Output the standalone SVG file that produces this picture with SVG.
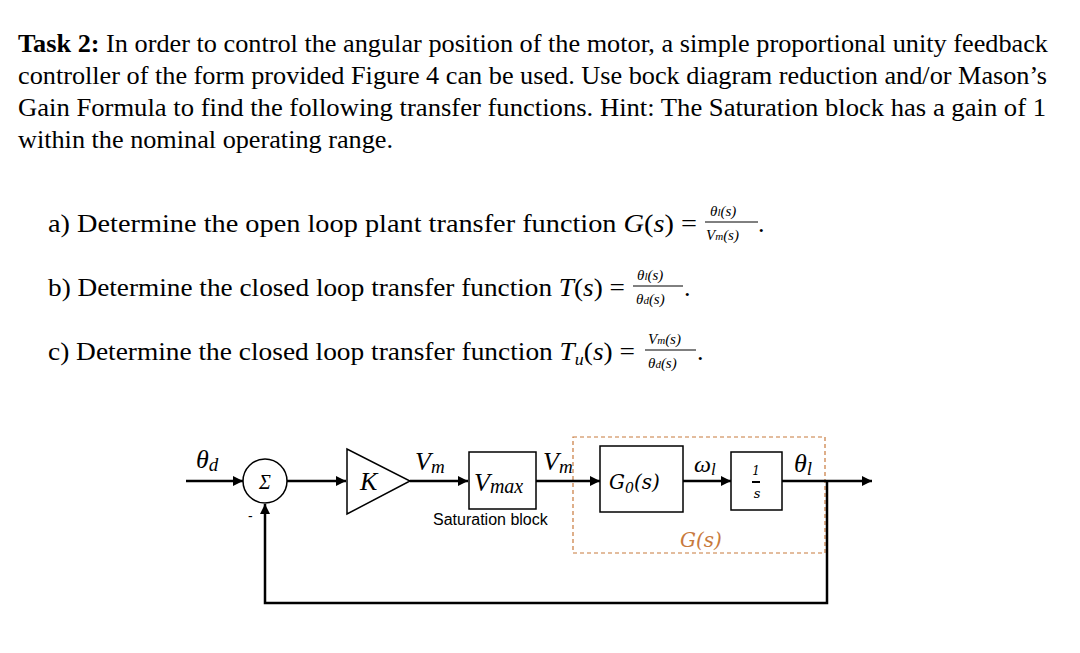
<svg xmlns="http://www.w3.org/2000/svg" width="1080" height="653" viewBox="0 0 1080 653">
<defs>
<marker id="ar" viewBox="0 0 10 10" refX="10" refY="5" markerWidth="10" markerHeight="10" markerUnits="userSpaceOnUse" orient="auto"><path d="M0,0L10,5L0,10z" fill="#000"/></marker>
</defs>
<style>
.t{font-family:"Liberation Serif",serif;font-size:26px;fill:#000}
.m{font-family:"Liberation Serif",serif;font-style:italic;fill:#000}
.f{font-family:"Liberation Serif",serif;font-style:italic;font-size:15px;fill:#000}
.c{font-family:"DejaVu Serif",serif;font-style:italic;fill:#000}
.box{fill:#fff;stroke:#000;stroke-width:1.5}
.ln{fill:none;stroke:#000;stroke-width:2.5}
</style>
<rect width="1080" height="653" fill="#fff"/>
<text class="t" x="18" y="52" textLength="1030" lengthAdjust="spacingAndGlyphs"><tspan font-weight="bold">Task 2:</tspan> In order to control the angular position of the motor, a simple proportional unity feedback</text>
<text class="t" x="18" y="84" textLength="1029" lengthAdjust="spacingAndGlyphs">controller of the form provided Figure 4 can be used. Use bock diagram reduction and/or Mason’s</text>
<text class="t" x="18" y="116" textLength="1028" lengthAdjust="spacingAndGlyphs">Gain Formula to find the following transfer functions. Hint: The Saturation block has a gain of 1</text>
<text class="t" x="18" y="148" textLength="375" lengthAdjust="spacingAndGlyphs">within the nominal operating range.</text>

<text class="t" x="48" y="232" textLength="649" lengthAdjust="spacingAndGlyphs">a) Determine the open loop plant transfer function <tspan font-style="italic">G</tspan>(<tspan font-style="italic">s</tspan>) =</text>
<text class="f" x="710" y="216">θ<tspan font-size="11">l</tspan>(s)</text>
<line x1="705" y1="222" x2="758" y2="222" stroke="#000" stroke-width="1"/>
<text class="f" x="706" y="240">V<tspan font-size="11">m</tspan>(s)</text>
<text class="t" x="758" y="232">.</text>

<text class="t" x="48" y="296" textLength="577" lengthAdjust="spacingAndGlyphs">b) Determine the closed loop transfer function <tspan font-style="italic">T</tspan>(<tspan font-style="italic">s</tspan>) =</text>
<text class="f" x="637" y="280">θ<tspan font-size="11">l</tspan>(s)</text>
<line x1="633" y1="286" x2="683" y2="286" stroke="#000" stroke-width="1"/>
<text class="f" x="636" y="304">θ<tspan font-size="11">d</tspan>(s)</text>
<text class="t" x="684" y="296">.</text>

<text class="t" x="48" y="360" textLength="587" lengthAdjust="spacingAndGlyphs">c) Determine the closed loop transfer function <tspan font-style="italic">T</tspan><tspan font-style="italic" font-size="17" dy="5">u</tspan><tspan dy="-5">(</tspan><tspan font-style="italic">s</tspan>) =</text>
<text class="f" x="648" y="344">V<tspan font-size="11">m</tspan>(s)</text>
<line x1="645" y1="350" x2="696" y2="350" stroke="#000" stroke-width="1"/>
<text class="f" x="648" y="368">θ<tspan font-size="11">d</tspan>(s)</text>
<text class="t" x="697" y="360">.</text>

<g id="gbox"><rect x="573" y="437" width="252" height="116" fill="none" stroke="#c87a3c" stroke-width="1.2" stroke-dasharray="4,3"/>
<text x="680" y="547" font-family="DejaVu Serif,serif" font-size="20" font-style="italic" fill="#c87a3c">G(s)</text></g>

<g id="conn">
<line class="ln" x1="186" y1="481" x2="243" y2="481" marker-end="url(#ar)"/>
<line class="ln" x1="287" y1="481" x2="346" y2="481" marker-end="url(#ar)"/>
<line class="ln" x1="410" y1="481" x2="468" y2="481" marker-end="url(#ar)"/>
<line class="ln" x1="536" y1="481" x2="600" y2="481" marker-end="url(#ar)"/>
<line class="ln" x1="683" y1="481" x2="731" y2="481" marker-end="url(#ar)"/>
<line class="ln" x1="782" y1="481" x2="872" y2="481" marker-end="url(#ar)"/>
<polyline class="ln" points="827,481 827,603 265,603 265,504" marker-end="url(#ar)"/>
</g>

<g id="sum"><circle class="box" cx="265" cy="481" r="22"/><text class="m" x="265" y="489" font-size="20" font-style="normal" text-anchor="middle">Σ</text></g>
<g id="gain"><polygon class="box" points="347,449 347,514 410,481"/><text class="m" x="360" y="490" font-size="26">K</text></g>
<g id="sat"><rect class="box" x="469" y="452" width="67" height="57"/><text class="m" x="474" y="491" font-size="26">V<tspan font-size="20" dy="2">max</tspan></text>
<text x="433" y="525" font-family="Liberation Sans,sans-serif" font-size="16">Saturation block</text></g>
<g id="g0"><rect class="box" x="600" y="446" width="83" height="66"/><text class="c" x="609" y="489" font-size="20" font-style="normal">G<tspan font-size="14" dy="4">0</tspan><tspan dy="-4">(s)</tspan></text></g>
<g id="integ"><rect class="box" x="731" y="452" width="51" height="58"/>
<text class="c" x="756" y="475" font-size="12" text-anchor="middle" font-style="normal">1</text>
<line x1="752" y1="482" x2="760" y2="482" stroke="#000" stroke-width="2"/>
<text class="c" x="757" y="498" font-size="13" text-anchor="middle">s</text></g>

<g id="labels">
<text class="m" x="196" y="468" font-size="26">θ<tspan font-size="19" dy="3">d</tspan></text>
<text x="248" y="521" font-family="Liberation Sans,sans-serif" font-size="14">-</text>
<text class="m" x="415" y="470" font-size="26">V<tspan font-size="19" dy="3">m</tspan></text>
<text class="m" x="543" y="470" font-size="26">V<tspan font-size="19" dy="3">m</tspan></text>
<text class="m" x="694" y="472" font-size="24">ω<tspan font-size="17" dy="3">l</tspan></text>
<text class="m" x="794" y="472" font-size="26">θ<tspan font-size="19" dy="3">l</tspan></text>
</g>
</svg>
